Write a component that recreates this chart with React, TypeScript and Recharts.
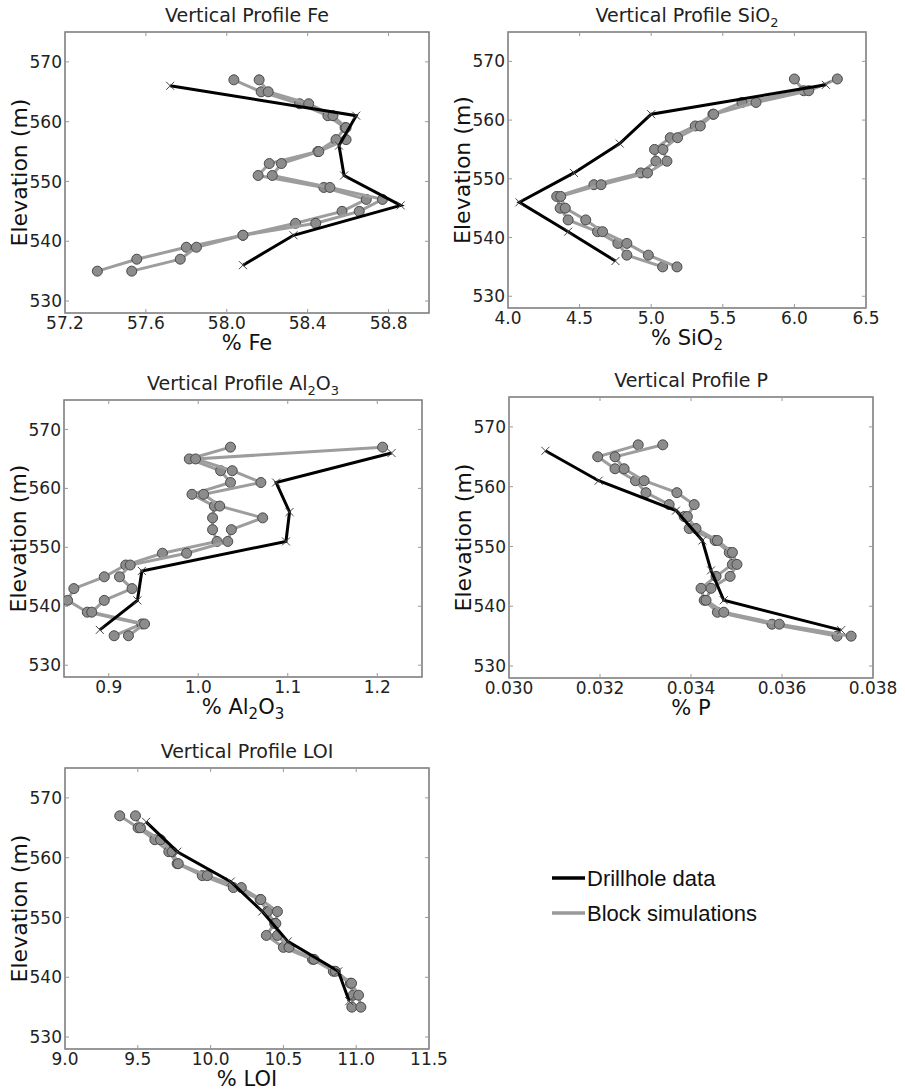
import React from "react";
import { ScatterChart, Scatter, XAxis, YAxis, ReferenceArea } from "recharts";

// elevations (m)
const drillElev = [566, 561, 556, 551, 546, 541, 536];
const simElev = [567, 565, 563, 561, 559, 557, 555, 553, 551, 549, 547, 545, 543, 541, 539, 537, 535];
const elevTicks = [530, 540, 550, 560, 570];
const elevDomain = [528, 575];

// Fe
const feTicks = [57.2, 57.6, 58.0, 58.4, 58.8];
const feDrill = [57.72, 58.64, 58.555, 58.58, 58.86, 58.33, 58.08];
const feSimA = [58.035, 58.17, 58.36, 58.5, 58.585, 58.54, 58.45, 58.21, 58.155, 58.48, 58.69, 58.57, 58.34, 58.08, 57.8, 57.555, 57.36];
const feSimB = [58.16, 58.205, 58.405, 58.525, 58.59, 58.59, 58.455, 58.27, 58.225, 58.51, 58.77, 58.655, 58.44, 58.08, 57.85, 57.77, 57.53];

// SiO2
const siTicks = [4.0, 4.5, 5.0, 5.5, 6.0, 6.5];
const siDrill = [6.22, 5.0, 4.78, 4.46, 4.08, 4.42, 4.75];
const siSimA = [6.0, 6.065, 5.634, 5.431, 5.308, 5.133, 5.023, 5.033, 4.928, 4.6, 4.34, 4.364, 4.42, 4.625, 4.767, 4.83, 5.08];
const siSimB = [6.3, 6.1, 5.732, 5.436, 5.343, 5.184, 5.082, 5.11, 4.974, 4.65, 4.368, 4.4, 4.543, 4.66, 4.83, 4.98, 5.18];

// Al2O3
const alTicks = [0.9, 1.0, 1.1, 1.2];
const alDrill = [1.216, 1.087, 1.102, 1.098, 0.937, 0.932, 0.89];
const alSimA = [1.036, 0.99, 1.025, 1.036, 0.993, 1.018, 1.016, 1.016, 1.021, 0.96, 0.919, 0.895, 0.861, 0.854, 0.876, 0.937, 0.906];
const alSimB = [1.206, 0.997, 1.038, 1.07, 1.006, 1.024, 1.072, 1.037, 1.033, 0.987, 0.924, 0.912, 0.926, 0.895, 0.881, 0.94, 0.922];

// P
const pTicks = [0.03, 0.032, 0.034, 0.036, 0.038];
const pDrill = [0.0308, 0.03197, 0.03367, 0.03425, 0.03444, 0.03472, 0.0373];
const pSimA = [0.03284, 0.03195, 0.03233, 0.03278, 0.03301, 0.03352, 0.03385, 0.03396, 0.03453, 0.03484, 0.03491, 0.03455, 0.03422, 0.03429, 0.03458, 0.03578, 0.03721];
const pSimB = [0.03338, 0.03233, 0.03253, 0.03297, 0.03369, 0.03407, 0.03392, 0.03411, 0.03458, 0.03491, 0.03501, 0.03486, 0.03444, 0.03433, 0.03472, 0.03594, 0.03752];

// LOI
const loiTicks = [9.0, 9.5, 10.0, 10.5, 11.0, 11.5];
const loiDrill = [9.557, 9.771, 10.138, 10.355, 10.53, 10.877, 10.952];
const loiSimA = [9.376, 9.502, 9.617, 9.713, 9.77, 9.943, 10.156, 10.34, 10.39, 10.44, 10.383, 10.5, 10.7, 10.843, 10.96, 10.979, 10.97];
const loiSimB = [9.484, 9.518, 9.656, 9.736, 9.778, 9.977, 10.211, 10.345, 10.459, 10.448, 10.459, 10.539, 10.71, 10.857, 10.968, 11.016, 11.032];

const zip = (xs: number[], ys: number[]) => xs.map((x, i) => ({ x, y: ys[i] }));

const FONT = "DejaVu Sans, Verdana, sans-serif";
const TOP = 40;
const LEFT = 70;
const RIGHT = 35;
const BOTTOM = 60;

const Dot = (p: any) => (
  <circle cx={p.cx} cy={p.cy} r={5} fill="#8c8c8c" stroke="#4a4a4a" strokeWidth={1} />
);

const Cross = (p: any) => (
  <path
    d={`M${p.cx - 4},${p.cy - 4}L${p.cx + 4},${p.cy + 4}M${p.cx - 4},${p.cy + 4}L${p.cx + 4},${p.cy - 4}`}
    stroke="#444"
    strokeWidth={1}
  />
);

interface PanelProps {
  box: { l: number; t: number; w: number; h: number };
  domain: number[];
  ticks: number[];
  digits: number;
  drill: number[];
  simA: number[];
  simB: number[];
  title: React.ReactNode;
  xlabel: React.ReactNode;
}

function Profile({ box, domain, ticks, digits, drill, simA, simB, title, xlabel }: PanelProps) {
  const { l, t, w, h } = box;

  const XTick = (p: any) => (
    <g>
      <line x1={p.x} x2={p.x} y1={TOP + h} y2={TOP + h - 4} stroke="#999" />
      <line x1={p.x} x2={p.x} y1={TOP} y2={TOP + 4} stroke="#999" />
      <text x={p.x} y={p.y} dy="0.71em" textAnchor="middle" fontSize={17} fontFamily={FONT} fill="#222">
        {Number(p.payload.value).toFixed(digits)}
      </text>
    </g>
  );

  const YTick = (p: any) => (
    <g>
      <line x1={LEFT} x2={LEFT + 4} y1={p.y} y2={p.y} stroke="#999" />
      <line x1={LEFT + w} x2={LEFT + w - 4} y1={p.y} y2={p.y} stroke="#999" />
      <text x={p.x} y={p.y} dy="0.355em" textAnchor="end" fontSize={17} fontFamily={FONT} fill="#222">
        {p.payload.value}
      </text>
    </g>
  );

  return (
    <>
      <div
        style={{
          position: "absolute",
          left: l + w / 2 - 200,
          top: t - 26,
          width: 400,
          textAlign: "center",
          fontFamily: FONT,
          fontSize: 19,
          lineHeight: "19px",
          color: "#222",
          whiteSpace: "nowrap",
        }}
      >
        {title}
      </div>
      <div style={{ position: "absolute", left: l - LEFT, top: t - TOP }}>
        <ScatterChart
          width={w + LEFT + RIGHT}
          height={h + TOP + BOTTOM}
          margin={{ top: TOP, right: RIGHT, left: 0, bottom: 0 }}
        >
          <XAxis
            type="number"
            dataKey="x"
            domain={domain}
            ticks={ticks}
            allowDataOverflow
            height={BOTTOM}
            axisLine={false}
            tickLine={false}
            tickSize={0}
            tickMargin={4}
            tick={XTick}
            label={() => (
              <text x={LEFT + w / 2} y={TOP + h + 37} textAnchor="middle" fontSize={21} fontFamily={FONT} fill="#111">
                {xlabel}
              </text>
            )}
          />
          <YAxis
            type="number"
            dataKey="y"
            domain={elevDomain}
            ticks={elevTicks}
            allowDataOverflow
            width={LEFT}
            axisLine={false}
            tickLine={false}
            tickSize={0}
            tickMargin={3}
            tick={YTick}
            label={() => (
              <text
                x={LEFT - 38}
                y={TOP + h / 2}
                transform={`rotate(-90 ${LEFT - 38} ${TOP + h / 2})`}
                textAnchor="middle"
                fontSize={22}
                fontFamily={FONT}
                fill="#111"
              >
                Elevation (m)
              </text>
            )}
          />
          <ReferenceArea
            x1={domain[0]}
            x2={domain[1]}
            y1={elevDomain[0]}
            y2={elevDomain[1]}
            fill="none"
            fillOpacity={0}
            stroke="#777"
            strokeWidth={1.5}
          />
          <Scatter
            data={zip(simA, simElev)}
            line={{ stroke: "#9d9d9d", strokeWidth: 3 }}
            shape={Dot}
            isAnimationActive={false}
          />
          <Scatter
            data={zip(simB, simElev)}
            line={{ stroke: "#9d9d9d", strokeWidth: 3 }}
            shape={Dot}
            isAnimationActive={false}
          />
          <Scatter
            data={zip(drill, drillElev)}
            line={{ stroke: "#000", strokeWidth: 3 }}
            shape={Cross}
            isAnimationActive={false}
          />
        </ScatterChart>
      </div>
    </>
  );
}

const sub = (s: string) => (
  <tspan dy={5} fontSize={15}>
    {s}
  </tspan>
);
const up = (s: string) => <tspan dy={-5}>{s}</tspan>;

export default function App() {
  return (
    <div style={{ position: "absolute", left: 0, top: 0, width: 905, height: 1089, background: "#fff" }}>
      <Profile
        box={{ l: 65, t: 32, w: 364, h: 281 }}
        domain={[57.2, 59.0]}
        ticks={feTicks}
        digits={1}
        drill={feDrill}
        simA={feSimA}
        simB={feSimB}
        title="Vertical Profile Fe"
        xlabel="% Fe"
      />
      <Profile
        box={{ l: 508, t: 32, w: 358, h: 276 }}
        domain={[4.0, 6.5]}
        ticks={siTicks}
        digits={1}
        drill={siDrill}
        simA={siSimA}
        simB={siSimB}
        title={
          <span>
            Vertical Profile SiO<sub style={{ fontSize: 13 }}>2</sub>
          </span>
        }
        xlabel={<>% SiO{sub("2")}</>}
      />
      <Profile
        box={{ l: 64, t: 400, w: 358, h: 277 }}
        domain={[0.85, 1.25]}
        ticks={alTicks}
        digits={1}
        drill={alDrill}
        simA={alSimA}
        simB={alSimB}
        title={
          <span>
            Vertical Profile Al<sub style={{ fontSize: 13 }}>2</sub>O<sub style={{ fontSize: 13 }}>3</sub>
          </span>
        }
        xlabel={<>% Al{sub("2")}{up("O")}{sub("3")}</>}
      />
      <Profile
        box={{ l: 509, t: 397, w: 364, h: 281 }}
        domain={[0.03, 0.038]}
        ticks={pTicks}
        digits={3}
        drill={pDrill}
        simA={pSimA}
        simB={pSimB}
        title="Vertical Profile P"
        xlabel="% P"
      />
      <Profile
        box={{ l: 65, t: 768, w: 364, h: 281 }}
        domain={[9.0, 11.5]}
        ticks={loiTicks}
        digits={1}
        drill={loiDrill}
        simA={loiSimA}
        simB={loiSimB}
        title="Vertical Profile LOI"
        xlabel="% LOI"
      />
      {/* legend */}
      <svg style={{ position: "absolute", left: 540, top: 850 }} width={260} height={90}>
        <line x1={12} x2={45} y1={28} y2={28} stroke="#000" strokeWidth={3.5} />
        <text x={47} y={28} dy="0.36em" fontSize={22} fontFamily="Liberation Sans, Arial, sans-serif" fill="#111">
          Drillhole data
        </text>
        <line x1={12} x2={45} y1={63} y2={63} stroke="#999" strokeWidth={3.5} />
        <text x={47} y={63} dy="0.36em" fontSize={22} fontFamily="Liberation Sans, Arial, sans-serif" fill="#111">
          Block simulations
        </text>
      </svg>
    </div>
  );
}
